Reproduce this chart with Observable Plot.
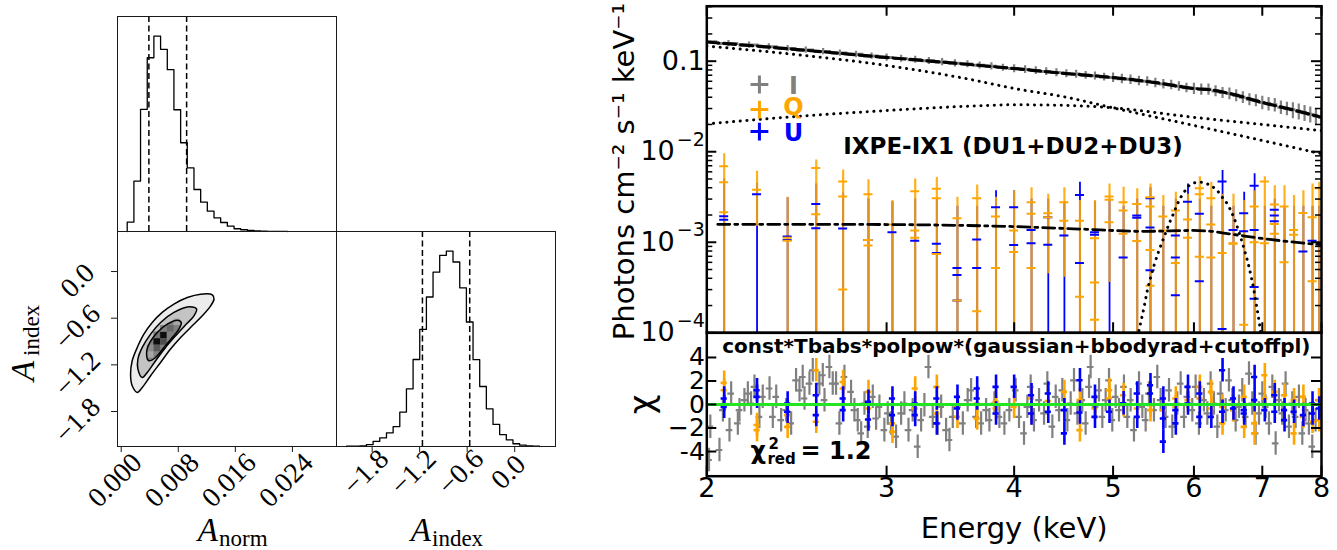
<!DOCTYPE html>
<html><head><meta charset="utf-8">
<script src="https://cdn.jsdelivr.net/npm/d3@7"></script>
<script src="https://cdn.jsdelivr.net/npm/@observablehq/plot@0.6"></script>
<style>
html,body{margin:0;padding:0;background:#fff;}
#fig{position:relative;width:1337px;height:550px;overflow:hidden;background:#fff;}
</style></head><body><div id="fig"></div>
<script>
// ================= DATA =================
// --- corner plot: marginal histogram of A_norm (normalised counts) ---
const normEdges = [0.00084,0.00178,0.00271,0.00365,0.00458,0.00552,0.00646,0.00739,0.00833,0.00926,0.01020,0.01114,0.01207,0.01301,0.01394,0.01488,0.01582,0.01675,0.01769,0.01862,0.01956,0.02050,0.02143,0.02237,0.02330];
const normCounts = [0.048,0.258,0.625,0.889,1.0,0.932,0.828,0.623,0.454,0.326,0.215,0.150,0.104,0.070,0.046,0.027,0.014,0.009,0.005,0.003,0.002,0.001,0.001,0.001];
const normQuantiles = [0.00388, 0.00917];
// --- marginal histogram of A_index ---
const indexEdges = [-2.124,-2.040,-1.956,-1.872,-1.788,-1.704,-1.619,-1.535,-1.451,-1.367,-1.283,-1.199,-1.115,-1.031,-0.947,-0.863,-0.779,-0.694,-0.610,-0.526,-0.442,-0.358,-0.274,-0.190,-0.106,-0.022,0.062,0.146,0.230,0.314];
const indexCounts = [0.002,0.002,0.003,0.010,0.026,0.044,0.070,0.102,0.176,0.295,0.445,0.599,0.765,0.892,0.978,1.0,0.944,0.812,0.637,0.444,0.307,0.193,0.113,0.061,0.034,0.014,0.007,0.003,0.002];
const indexQuantiles = [-1.165, -0.568];
// --- 2D posterior contours (A_norm, A_index) ---
const contourOuter = [[0.00225,-1.554],[0.00154,-1.469],[0.00131,-1.319],[0.00154,-1.147],[0.00225,-0.976],[0.00318,-0.805],[0.00435,-0.655],[0.00575,-0.526],[0.00739,-0.419],[0.00926,-0.334],[0.01113,-0.291],[0.01277,-0.299],[0.01301,-0.355],[0.01254,-0.441],[0.01137,-0.569],[0.00996,-0.698],[0.00833,-0.848],[0.00692,-0.997],[0.00552,-1.169],[0.00412,-1.340],[0.00295,-1.490]];
const contourMid = [[0.00295,-1.362],[0.00234,-1.254],[0.00234,-1.126],[0.00295,-0.976],[0.00412,-0.805],[0.00552,-0.655],[0.00739,-0.526],[0.00950,-0.453],[0.01057,-0.484],[0.01020,-0.569],[0.00903,-0.685],[0.00763,-0.826],[0.00622,-0.976],[0.00482,-1.147],[0.00365,-1.297]];
const contourInner = [[0.00388,-1.147],[0.00356,-1.040],[0.00402,-0.912],[0.00505,-0.783],[0.00646,-0.676],[0.00786,-0.625],[0.00842,-0.655],[0.00809,-0.740],[0.00716,-0.848],[0.00599,-0.976],[0.00482,-1.105]];
const cellX = [0.00599,0.00505,0.00599,0.00505,0.00693,0.00693,0.00412,0.00505,0.00412,0.00786,0.00599];
const cellY = [-0.821,-0.905,-0.905,-0.989,-0.737,-0.821,-0.989,-0.821,-1.073,-0.652,-0.737];
const cellDensity = [0.95,0.95,0.70,0.65,0.60,0.50,0.45,0.55,0.35,0.35,0.50];
const normTicks = [0, 0.008, 0.016, 0.024];
const normTickLabels = ["0.000","0.008","0.016","0.024"];
const indexTicksY = [0, -0.6, -1.2, -1.8];
const indexTickLabelsY = ["0.0","\u22120.6","\u22121.2","\u22121.8"];
const indexTicksX = [-1.8, -1.2, -0.6, 0];
const indexTickLabelsX = ["\u22121.8","\u22121.2","\u22120.6","0.0"];

// --- spectrum: Stokes I (photons cm-2 s-1 keV-1) ---
const iE = [2.0,2.1,2.2,2.3,2.4,2.5,2.6,2.7,2.8,2.9,3.0,3.1,3.2,3.3,3.4,3.5,3.6,3.7,3.8,3.9,4.0,4.1,4.2,4.3,4.4,4.5,4.6,4.7,4.8,4.9,5.0,5.1,5.2,5.3,5.4,5.5,5.6,5.7,5.8,5.9,6.0,6.1,6.2,6.3,6.4,6.5,6.6,6.7,6.8,6.9,7.0,7.1,7.2,7.3,7.4,7.5,7.6,7.7,7.8,7.9,8.0];
const iV = [0.164,0.157,0.151,0.144,0.138,0.133,0.128,0.123,0.119,0.114,0.110,0.107,0.104,0.101,0.098,0.095,0.093,0.090,0.088,0.085,0.083,0.081,0.079,0.077,0.075,0.073,0.072,0.070,0.069,0.067,0.066,0.064,0.063,0.061,0.060,0.058,0.056,0.055,0.053,0.051,0.050,0.049,0.049,0.047,0.045,0.044,0.042,0.040,0.038,0.037,0.035,0.034,0.033,0.031,0.030,0.029,0.028,0.027,0.026,0.025,0.024];
const iErr = [0.08,0.08,0.08,0.08,0.08,0.08,0.08,0.08,0.08,0.08,0.09,0.09,0.09,0.09,0.09,0.09,0.09,0.09,0.09,0.09,0.10,0.10,0.10,0.10,0.10,0.10,0.10,0.10,0.10,0.10,0.12,0.12,0.12,0.12,0.12,0.12,0.12,0.12,0.12,0.12,0.14,0.14,0.14,0.14,0.14,0.15,0.15,0.15,0.15,0.15,0.17,0.17,0.17,0.17,0.17,0.20,0.20,0.20,0.20,0.20,0.20];
// --- spectrum: Stokes Q and U bins ---
const binE = [2.08,2.24,2.40,2.56,2.72,2.88,3.04,3.20,3.36,3.52,3.68,3.84,4.00,4.16,4.32,4.48,4.64,4.80,4.96,5.12,5.28,5.44,5.60,5.76,5.92,6.08,6.24,6.40,6.56,6.72,6.88,7.04,7.20,7.36,7.52,7.68,7.84,7.96];
const qHi = [9.5e-3,6.1e-3,3.15e-3,8.1e-3,6.3e-3,4.9e-3,2.89e-3,5.0e-3,5.2e-3,3.15e-3,4.3e-3,3.15e-3,3.7e-3,4.0e-3,3.4e-3,4.0e-3,2.9e-3,2.89e-3,4.4e-3,4.05e-3,3.9e-3,4.4e-3,3.28e-3,3.57e-3,3.4e-3,5.3e-3,4.6e-3,3.4e-3,3.4e-3,2.9e-3,3.7e-3,5.3e-3,4.2e-3,4.2e-3,3.28e-3,3.7e-3,4.4e-3,4.6e-3];
const qLo = [1e-4,1.5e-3,1e-4,1e-4,1e-4,1e-4,1e-4,1e-4,1e-4,1e-4,1e-4,1e-4,1e-4,1e-4,4.5e-4,4.1e-4,1e-4,1e-4,3.6e-4,1e-4,1e-4,1e-4,1e-4,1e-4,1e-4,1e-4,1e-4,1e-4,1e-4,1e-4,1e-4,1e-4,1e-4,1e-4,1e-4,1e-4,1e-4,1e-4];
const qVals = [[6.9e-3,4.6e-3,2.15e-3],[3.8e-3],[1.12e-3,1.04e-3],[6.6e-3,2.04e-3],[4.7e-3,3.2e-3,3.0e-4],[3.39e-3,1.06e-3,9.2e-4],[1.57e-3],[3.66e-3,1.35e-3,1.12e-3],[3.9e-3,3.06e-3,7.4e-4],[1.84e-3,2.27e-4],[3.06e-3,1.73e-4],[1.92e-3,5.2e-4],[1.35e-3,7.8e-4],[2.77e-3,2.06e-3,5.2e-4],[2.09e-3,1.89e-3],[2.77e-3,1.73e-3],[1.73e-3,2.5e-4],[1.11e-3,3.6e-4,1.39e-4],[3.2e-3,2.94e-3,1.66e-3],[2.77e-3,2.24e-3,1.24e-3],[2.65e-3,1.03e-3],[3.15e-3,2.48e-3,8.2e-4,3.3e-4],[1.92e-3,1.35e-3],[2.24e-3,5.9e-4],[1.78e-3,1.12e-3],[3.95e-3,3.4e-3,6.9e-4],[3.06e-3,1.57e-3,6.8e-4],[7.6e-4],[9.75e-4,9.6e-4],[1.23e-4],[2.48e-3,1.0e-3],[4.7e-3,9.75e-4],[2.61e-3,1.59e-3,1.24e-3],[2.48e-3,6.0e-4],[1.37e-3,1.21e-3],[2.11e-3],[1.89e-3,3.7e-4],[3.95e-3]];
const uHi = [5.0e-3,4.5e-3,3.1e-3,4.4e-3,3.5e-3,3.0e-3,2.8e-3,3.0e-3,3.0e-3,2.5e-3,2.5e-3,3.7e-3,3.7e-3,3.0e-3,3.0e-3,2.7e-3,4.6e-3,2.8e-3,3.0e-3,2.5e-3,3.0e-3,4.0e-3,2.5e-3,3.0e-3,4.4e-3,3.0e-3,2.5e-3,6.2e-3,2.5e-3,3.57e-3,5.7e-3,2.5e-3,3.0e-3,2.5e-3,2.5e-3,2.5e-3,2.5e-3,2.5e-3];
const uVals = [[1.94e-3,1.77e-3],[3.39e-3],[1.16e-3,1.06e-3],[2.65e-3,1.43e-3],[1.42e-3],[1.06e-3],[1.29e-3],[1.04e-3],[9.6e-4,7.6e-4],[5.2e-4,4.35e-4,2.27e-4],[1.07e-3,5.2e-4],[2.44e-3],[2.44e-3,9.35e-4],[1.37e-3,9.75e-4],[1.89e-3,9.4e-4],[1.19e-3],[3.33e-3,5.9e-4],[1.29e-3,1.21e-3],[],[6.8e-4],[1.97e-3,1.86e-3],[3.06e-3,1.46e-3,4.9e-4],[],[1.19e-3,6.8e-4,2.6e-4],[2.81e-3],[2.06e-3,3.7e-4],[],[4.7e-3,1.1e-4],[1.37e-3],[2.09e-3,1.32e-3],[4.2e-3,1.37e-3,3.2e-4,2.37e-4],[],[2.28e-3,1.97e-3,1.71e-3],[],[],[7.9e-4],[1.04e-3],[]];
// --- model curves ---
const totE = [2.0,2.5,3.0,3.5,4.0,4.5,5.0,5.5,6.0,6.25,6.5,7.0,7.5,8.0];
const totV = [0.163,0.132,0.110,0.095,0.083,0.073,0.066,0.058,0.050,0.048,0.044,0.035,0.029,0.024];
const cutE = [2.0,2.4,3.0,3.6,4.0,4.5,5.0,6.0,7.0,8.0];
const cutV = [0.147,0.121,0.0897,0.0638,0.050,0.040,0.0305,0.0195,0.0133,0.0095];
const bbE = [2.0,2.4,3.0,3.6,4.0,4.5,5.0,6.0,7.0,8.0];
const bbV = [0.0203,0.0241,0.0285,0.0318,0.033,0.0325,0.0305,0.024,0.020,0.0171];
const gaussE = [5.300,5.361,5.401,5.442,5.483,5.545,5.608,5.672,5.736,5.801,5.867,5.933,6.000,6.091,6.184,6.254,6.324,6.396,6.469,6.542,6.601,6.666,6.726,6.782,6.829,6.870,6.905,6.948,6.974];
const gaussV = [1.06e-4,1.91e-4,2.92e-4,4.1e-4,5.52e-4,8.1e-4,1.135e-3,1.59e-3,2.14e-3,2.88e-3,3.56e-3,4.22e-3,4.53e-3,4.6e-3,4.41e-3,4.12e-3,3.72e-3,3.14e-3,2.65e-3,2.06e-3,1.59e-3,1.135e-3,8.1e-4,5.77e-4,4.1e-4,2.92e-4,2.08e-4,1.36e-4,1.01e-4];
const polE = [2.05,2.5,3.0,3.5,4.0,4.64,5.38,5.98,6.2,6.49,7.05,7.83,8.0];
const polV = [1.58e-3,1.58e-3,1.57e-3,1.54e-3,1.49e-3,1.40e-3,1.32e-3,1.35e-3,1.33e-3,1.24e-3,1.09e-3,9.6e-4,9.4e-4];
// --- residuals (chi) ---
const chiIE = [2.010,2.016,2.058,2.074,2.105,2.113,2.145,2.153,2.177,2.194,2.210,2.227,2.252,2.269,2.304,2.321,2.339,2.365,2.392,2.419,2.446,2.465,2.483,2.493,2.521,2.540,2.578,2.598,2.608,2.637,2.657,2.677,2.697,2.728,2.769,2.790,2.811,2.833,2.854,2.875,2.908,2.930,2.952,2.985,3.008,3.030,3.065,3.100,3.123,3.152,3.182,3.218,3.243,3.267,3.297,3.329,3.367,3.393,3.431,3.457,3.483,3.523,3.563,3.602,3.630,3.671,3.713,3.755,3.783,3.826,3.869,3.913,3.957,
 4.014,4.044,4.090,4.121,4.152,4.183,4.231,4.279,4.311,4.360,4.393,4.426,4.459,4.510,4.544,4.578,4.613,4.665,4.700,4.736,4.753,4.807,4.844,4.880,4.917,4.954,4.991,5.029,5.067,5.124,5.163,5.202,5.241,5.301,5.341,5.381,5.421,5.483,5.524,5.566,5.629,5.672,5.714,5.779,5.823,5.867,5.911,5.978,6.023,6.068,6.137,6.184,6.230,6.277,6.325,6.372,6.445,6.493,6.542,6.592,6.641,6.691,6.742,6.793,6.844,6.896,6.948,7.000,7.053,7.106,7.160,7.214,7.268,7.323,7.378,7.434,7.490,7.546,7.603,7.661,7.718,7.776,7.835,7.894,7.954];
const chiIV = [-4.72,-1.89,-3.87,-0.48,-2.18,0.93,-1.61,-0.48,0.37,0.93,0.08,1.50,-1.05,0.65,1.36,-1.05,0.65,-1.33,-0.48,-1.61,2.06,1.21,2.34,0.51,1.78,2.91,1.78,2.49,0.37,3.19,1.78,1.78,-1.61,2.34,1.07,-0.48,-1.33,-2.46,0.08,-1.89,0.65,-1.19,-0.20,-2.18,-0.76,-1.61,-2.74,-0.76,0.08,-2.18,-0.48,-3.59,-1.33,-0.06,3.19,-1.05,-1.61,-0.20,-2.18,-3.02,-1.05,-0.20,-1.61,0.37,1.21,-1.05,-1.61,-0.48,-1.33,0.08,-1.05,-1.61,-0.48,
 1.21,-1.05,-2.46,-0.20,1.50,-1.33,0.37,-0.76,1.78,-1.89,0.65,-0.48,1.21,-1.33,0.08,2.06,-0.76,0.37,-1.61,1.50,3.19,-0.20,1.21,-1.05,0.37,2.06,-1.33,0.65,-0.48,1.50,-1.05,0.37,-2.18,1.78,-0.20,-1.33,0.93,-0.48,2.34,0.37,-1.05,1.21,-1.89,0.08,1.78,-1.05,0.65,-0.48,1.50,-1.61,0.37,-0.76,1.78,0.08,-1.89,0.93,-0.48,2.06,0.37,-1.33,-0.20,1.21,-1.05,2.63,0.08,-2.46,-0.76,0.93,-0.20,-1.61,1.50,-3.31,0.37,-0.76,1.78,-1.89,0.08,-1.05,0.65,-2.46,-0.48,-1.61,-3.59,-1.33,0.37];
const qChi = [[1.84,1.21],[-1.75,-2.18],[-0.9,-1.9],[2.91,-1.47],[1.92,1.36],[1.07,-0.34],[-1.61,-2.32],[1.36,-0.34],[1.5,-0.76],[-0.06,-1.05],[0.08,-1.19],[0.23,-0.34],[-0.2],[0.51,-0.76],[0.3],[1.07],[0.37,-2.18],[-0.34],[1.21,0.51],[0.79,-0.06],[-0.34],[-0.06,-0.48],[-0.48],[0.51,-0.2],[0.37],[1.5,0.51],[1.07,-0.34],[-1.61,-0.2],[-0.48],[0.65,-1.9],[-1.61,-2.46],[2.49,0.51],[1.07],[0.79],[0.37,-2.46],[0.65,-1.05],[-1.47],[0.37,-1.33]];
const uChi = [[0.51,-0.2],[1.21,0.65],[0.08,-0.62],[0.79,-0.9],[0.51,-0.48],[0.23,-1.27],[0.51,-0.9],[0.08,-0.9],[0.51,-1.61],[0.65,-0.34],[1.36,0.51],[1.5,-0.76],[1.5],[0.79,-0.76],[0.93,-0.62],[-0.48,-2.46],[2.06,-0.68],[0.65,-1.05],[-0.62],[0.1],[0.93,-1.05],[1.64,0.93],[0.51,-1.19,-3.16],[-0.48,-1.61],[1.5,0.08],[0.93,-1.05],[-1.05],[2.91,-0.62],[0.51,-0.34],[-0.48,-0.76],[2.34,0.37],[-0.48],[0.79,-0.62],[-0.48,-1.33],[-0.62],[-0.9],[0.08,-0.76],[-0.34]];
// --- axes ---
const xMajor = [2,3,4,5,6,7,8];
const xMajorLabels = ["2","3","4","5","6","7","8"];
const yDecades = [1e-4,1e-3,1e-2];
const yDecadeExponents = ["\u22124","\u22123","\u22122"];
const yPlainTicks = [0.1];
const yPlainLabels = ["0.1"];
const yMinor = [1e-4,1e-3,1e-2,1e-1].flatMap(d => [2,3,4,5,6,7,8,9].map(m => m*d)).filter(v => v < 0.405);
const chiTicks = [4,2,0,-2,-4];
const chiTickLabels = ["4","2","0","\u22122","-4"];
const legendNames = ["I","Q","U"];
const colI = "#808080", colQ = "#FFA500", colU = "#0000FF", colZero = "#22e622";

// ================= RENDER =================
const W = 1337, H = 550;
const SANS = "DejaVu Sans", SERIF = "Liberation Serif";
const fig = document.getElementById("fig");
function panel(f, opts) {
  const svg = Plot.plot({
    width: W, height: H,
    marginLeft: f.l, marginRight: W - f.r, marginTop: f.t, marginBottom: H - f.b,
    style: {background: "transparent", overflow: "visible", position: "absolute", left: "0px", top: "0px"},
    ...opts
  });
  fig.appendChild(svg);
}
const stepPts = (edges, counts) => {
  const pts = [{x: edges[0], y: 0}];
  counts.forEach((c, i) => pts.push({x: edges[i], y: c}));
  pts.push({x: edges[edges.length - 1], y: counts[counts.length - 1]});
  pts.push({x: edges[edges.length - 1], y: 0});
  return pts;
};
const P1 = {l:117, r:336, t:16, b:231};
const P2 = {l:117, r:336, t:231, b:446};
const P3 = {l:336, r:555, t:231, b:446};
const P4 = {l:706.3, r:1321, t:5.7, b:332.3};
const P5 = {l:706.3, r:1321, t:332.3, b:475.7};
const normDomain = [-0.00052, 0.03018];
const indexDomain = [-2.25, 0.515];
const cornerFrame = Plot.frame({stroke: "#1a1a1a", strokeWidth: 1});
const serifText = {fontFamily: SERIF, fill: "#000"};

// P1: A_norm histogram
panel(P1, {
  x: {domain: normDomain, axis: null}, y: {domain: [0, 1.1], axis: null},
  marks: [
    Plot.line(stepPts(normEdges, normCounts), {x: "x", y: "y", curve: "step-after", stroke: "#000", strokeWidth: 1.3}),
    Plot.ruleX(normQuantiles, {stroke: "#000", strokeWidth: 1.5, strokeDasharray: "6,3.5"}),
    cornerFrame
  ]
});

// P2: 2D posterior
const cells = cellX.map((x, i) => ({x, y: cellY[i], d: cellDensity[i]}));
const hx = 0.000468, hy = 0.042;
panel(P2, {
  x: {domain: normDomain, axis: null}, y: {domain: indexDomain, axis: null},
  marks: [
    Plot.line(contourOuter, {x: d => d[0], y: d => d[1], curve: "catmull-rom-closed", fill: "#ececec", stroke: "none"}),
    Plot.line(contourMid, {x: d => d[0], y: d => d[1], curve: "catmull-rom-closed", fill: "#c4c4c4", stroke: "none"}),
    Plot.line(contourInner, {x: d => d[0], y: d => d[1], curve: "catmull-rom-closed", fill: "#808080", stroke: "none"}),
    Plot.rect(cells, {x1: d => d.x - hx, x2: d => d.x + hx, y1: d => d.y - hy, y2: d => d.y + hy,
      fill: d => { const g = Math.round(255 * (1 - d.d)); return `rgb(${g},${g},${g})`; }}),
    Plot.line(contourOuter, {x: d => d[0], y: d => d[1], curve: "catmull-rom-closed", stroke: "#000", strokeWidth: 1.5}),
    Plot.line(contourMid, {x: d => d[0], y: d => d[1], curve: "catmull-rom-closed", stroke: "#000", strokeWidth: 1.5}),
    Plot.line(contourInner, {x: d => d[0], y: d => d[1], curve: "catmull-rom-closed", stroke: "#000", strokeWidth: 1.5}),
    Plot.ruleX(normTicks, {insetTop: P2.b - P2.t, insetBottom: -6, stroke: "#1a1a1a"}),
    Plot.ruleY(indexTicksY, {insetRight: P2.r - P2.l, insetLeft: -6, stroke: "#1a1a1a"}),
    Plot.text(normTicks, {x: d => d, text: (d, i) => normTickLabels[i], frameAnchor: "bottom", dy: 40, rotate: -45, textAnchor: "middle", fontSize: 28, ...serifText}),
    Plot.text(indexTicksY, {y: d => d, text: (d, i) => indexTickLabelsY[i], frameAnchor: "left", dx: -40, dy: 9, rotate: -45, textAnchor: "middle", fontSize: 28, ...serifText}),
    Plot.text(["A"], {text: d => d, frameAnchor: "bottom", dx: -9, dy: 94, textAnchor: "end", lineAnchor: "bottom", fontSize: 33, fontStyle: "italic", ...serifText}),
    Plot.text(["norm"], {text: d => d, frameAnchor: "bottom", dx: -8, dy: 99, textAnchor: "start", lineAnchor: "bottom", fontSize: 23, ...serifText}),
    Plot.text(["A"], {text: d => d, frameAnchor: "left", dx: -84, dy: 42, rotate: -90, textAnchor: "start", lineAnchor: "bottom", fontSize: 33, fontStyle: "italic", ...serifText}),
    Plot.text(["index"], {text: d => d, frameAnchor: "left", dx: -79, dy: 17, rotate: -90, textAnchor: "start", lineAnchor: "bottom", fontSize: 23, ...serifText}),
    cornerFrame
  ]
});

// P3: A_index histogram
panel(P3, {
  x: {domain: indexDomain, axis: null}, y: {domain: [0, 1.1], axis: null},
  marks: [
    Plot.line(stepPts(indexEdges, indexCounts), {x: "x", y: "y", curve: "step-after", stroke: "#000", strokeWidth: 1.3}),
    Plot.ruleX(indexQuantiles, {stroke: "#000", strokeWidth: 1.5, strokeDasharray: "6,3.5"}),
    Plot.ruleX(indexTicksX, {insetTop: P3.b - P3.t, insetBottom: -6, stroke: "#1a1a1a"}),
    Plot.text(indexTicksX, {x: d => d, text: (d, i) => indexTickLabelsX[i], frameAnchor: "bottom", dy: 32, rotate: -45, textAnchor: "middle", fontSize: 28, ...serifText}),
    Plot.text(["A"], {text: d => d, frameAnchor: "bottom", dx: -15, dy: 94, textAnchor: "end", lineAnchor: "bottom", fontSize: 33, fontStyle: "italic", ...serifText}),
    Plot.text(["index"], {text: d => d, frameAnchor: "bottom", dx: -14, dy: 99, textAnchor: "start", lineAnchor: "bottom", fontSize: 23, ...serifText}),
    cornerFrame
  ]
});

// P4: spectrum
const fw = P4.r - P4.l, fh4 = P4.b - P4.t, fh5 = P5.b - P5.t;
const iPts = iE.map((e, i) => ({e, v: iV[i], err: iErr[i]}));
const qBars = binE.map((e, i) => ({e, hi: qHi[i], lo: qLo[i]}));
const uBars = binE.map((e, i) => ({e, hi: uHi[i], lo: 1e-4}));
const qTicks = binE.flatMap((e, i) => qVals[i].map(v => ({e, v})));
const uTicks = binE.flatMap((e, i) => uVals[i].map(v => ({e, v})));
const hw = 1.0102;
const toPts = (E, V) => E.map((e, i) => ({e, v: V[i]}));
const dotted = {stroke: "#000", strokeWidth: 3, strokeDasharray: "0.1,6.6", strokeLinecap: "round", curve: "monotone-x", clip: true};
const sansText = {fontFamily: SANS, fill: "#000"};
const legendMarkY = [0.0553, 0.0292, 0.0167];
const legendTextY = [0.0525, 0.0308, 0.0159];
const legendCols = [colI, colQ, colU];
panel(P4, {
  x: {type: "log", domain: [2, 8], axis: null},
  y: {type: "log", domain: [1e-4, 0.405], axis: null},
  marks: [
    Plot.ruleX(uBars, {x: "e", y1: "lo", y2: "hi", stroke: colU, strokeWidth: 1.8, clip: true}),
    Plot.ruleX(qBars, {x: "e", y1: "lo", y2: "hi", stroke: colQ, strokeWidth: 2.2, strokeOpacity: 0.88, clip: true}),
    Plot.ruleY(uTicks, {y: "v", x1: d => d.e / hw, x2: d => d.e * hw, stroke: colU, strokeWidth: 2, clip: true}),
    Plot.ruleY(qTicks, {y: "v", x1: d => d.e / hw, x2: d => d.e * hw, stroke: colQ, strokeWidth: 2, clip: true}),
    Plot.line(toPts(cutE, cutV), {x: "e", y: "v", ...dotted}),
    Plot.line(toPts(bbE, bbV), {x: "e", y: "v", ...dotted}),
    Plot.line(toPts(gaussE, gaussV), {x: "e", y: "v", ...dotted}),
    Plot.ruleX(iPts, {x: "e", y1: d => d.v * (1 - d.err), y2: d => d.v * (1 + d.err), stroke: colI, strokeWidth: 2.2, clip: true}),
    Plot.ruleY(iPts, {y: "v", x1: d => d.e - 0.05, x2: d => d.e + 0.05, stroke: colI, strokeWidth: 3, clip: true}),
    Plot.line(toPts(totE, totV), {x: "e", y: "v", stroke: "#000", strokeWidth: 3.2, strokeDasharray: "12,5", curve: "monotone-x", clip: true}),
    Plot.line(toPts(polE, polV), {x: "e", y: "v", stroke: "#000", strokeWidth: 2.8, strokeDasharray: "12,5,3,5", curve: "monotone-x", clip: true}),
    // legend
    Plot.dot(legendNames, {x: () => 2.252, y: (d, i) => legendMarkY[i], symbol: "plus", r: 5.8, stroke: (d, i) => legendCols[i], strokeWidth: 3}),
    Plot.text(legendNames, {x: () => 2.432, y: (d, i) => legendTextY[i], text: d => d, fill: (d, i) => legendCols[i], fontSize: 24, fontWeight: "bold", fontFamily: SANS}),
    Plot.text(["IXPE-IX1 (DU1+DU2+DU3)"], {x: () => 3.99, y: () => 0.0095, text: d => d, lineAnchor: "bottom", fontSize: 23, fontWeight: "bold", ...sansText}),
    // ticks
    Plot.ruleX(xMajor, {insetTop: fh4 - 10, stroke: "#000", strokeWidth: 2}),
    Plot.ruleX(xMajor, {insetBottom: fh4 - 10, stroke: "#000", strokeWidth: 2}),
    Plot.ruleY([...yDecades, ...yPlainTicks], {insetRight: fw - 10, stroke: "#000", strokeWidth: 2}),
    Plot.ruleY([...yDecades, ...yPlainTicks], {insetLeft: fw - 10, stroke: "#000", strokeWidth: 2}),
    Plot.ruleY(yMinor, {insetRight: fw - 6, stroke: "#000", strokeWidth: 1.5}),
    Plot.ruleY(yMinor, {insetLeft: fw - 6, stroke: "#000", strokeWidth: 1.5}),
    Plot.text(yPlainTicks, {y: d => d, text: (d, i) => yPlainLabels[i], frameAnchor: "left", dx: -2, textAnchor: "end", fontSize: 27, ...sansText}),
    Plot.text(yDecades, {y: d => d, text: () => "10", frameAnchor: "left", dx: -32, textAnchor: "end", fontSize: 27, ...sansText}),
    Plot.text(yDecades, {y: d => d, text: (d, i) => yDecadeExponents[i], frameAnchor: "left", dx: -2, dy: -12, textAnchor: "end", fontSize: 19, ...sansText}),
    Plot.text(["Photons cm\u207B\u00B2 s\u207B\u00B9 keV\u207B\u00B9"], {text: d => d, frameAnchor: "left", dx: -73, dy: 2, rotate: -90, textAnchor: "middle", lineAnchor: "bottom", fontSize: 29, ...sansText}),
    Plot.frame({stroke: "#000", strokeWidth: 2.5})
  ]
});

// P5: residuals
const chiI = chiIE.map((e, i) => ({e, v: chiIV[i]}));
const chiQ = binE.flatMap((e, i) => qChi[i].map(v => ({e, v})));
const chiU = binE.flatMap((e, i) => uChi[i].map(v => ({e, v})));
const hwI = 1.0075, hwQU = 1.007;
const crosses = (data, color, w, h) => [
  Plot.ruleX(data, {x: "e", y1: d => d.v - 1, y2: d => d.v + 1, stroke: color, strokeWidth: w, clip: true}),
  Plot.ruleY(data, {y: "v", x1: d => d.e / h, x2: d => d.e * h, stroke: color, strokeWidth: w, clip: true})
];
const chiAnchor = {x: () => 2.207, y: () => -4.6};
panel(P5, {
  x: {type: "log", domain: [2, 8], axis: null},
  y: {domain: [-6.1, 6.1], axis: null},
  marks: [
    ...crosses(chiI, colI, 2.2, hwI),
    ...crosses(chiQ, colQ, 2.6, hwQU),
    ...crosses(chiU, colU, 2.6, hwQU),
    Plot.ruleY([0], {stroke: colZero, strokeWidth: 3}),
    Plot.text(["const*Tbabs*polpow*(gaussian+bbodyrad+cutoffpl)"], {x: () => 4.02, y: () => 4.34, text: d => d, lineAnchor: "bottom", fontSize: 20, fontWeight: "bold", ...sansText}),
    Plot.text(["\u03C7"], {...chiAnchor, text: d => d, textAnchor: "start", lineAnchor: "bottom", fontSize: 24, fontWeight: "bold", ...sansText}),
    Plot.text(["2"], {...chiAnchor, text: d => d, dx: 18, dy: -10, textAnchor: "start", lineAnchor: "bottom", fontSize: 15, fontWeight: "bold", ...sansText}),
    Plot.text(["red"], {...chiAnchor, text: d => d, dx: 17, dy: 5, textAnchor: "start", lineAnchor: "bottom", fontSize: 15, fontWeight: "bold", ...sansText}),
    Plot.text(["= 1.2"], {...chiAnchor, text: d => d, dx: 50, textAnchor: "start", lineAnchor: "bottom", fontSize: 24, fontWeight: "bold", ...sansText}),
    Plot.ruleX(xMajor, {insetTop: fh5 - 10, stroke: "#000", strokeWidth: 2}),
    Plot.ruleY(chiTicks, {insetRight: fw - 10, stroke: "#000", strokeWidth: 2}),
    Plot.ruleY(chiTicks, {insetLeft: fw - 10, stroke: "#000", strokeWidth: 2}),
    Plot.text(chiTicks, {y: d => d, text: (d, i) => chiTickLabels[i], frameAnchor: "left", dx: -2, textAnchor: "end", fontSize: 25, ...sansText}),
    Plot.text(xMajor, {x: d => d, text: (d, i) => xMajorLabels[i], frameAnchor: "bottom", dy: 21, textAnchor: "middle", fontSize: 27, ...sansText}),
    Plot.text(["Energy (keV)"], {text: d => d, frameAnchor: "bottom", dy: 62, textAnchor: "middle", lineAnchor: "bottom", fontSize: 29, ...sansText}),
    Plot.text(["\u03C7"], {text: d => d, frameAnchor: "left", dx: -65, rotate: -90, textAnchor: "middle", fontSize: 34, ...sansText}),
    Plot.frame({stroke: "#000", strokeWidth: 2.5})
  ]
});
</script></body></html>
